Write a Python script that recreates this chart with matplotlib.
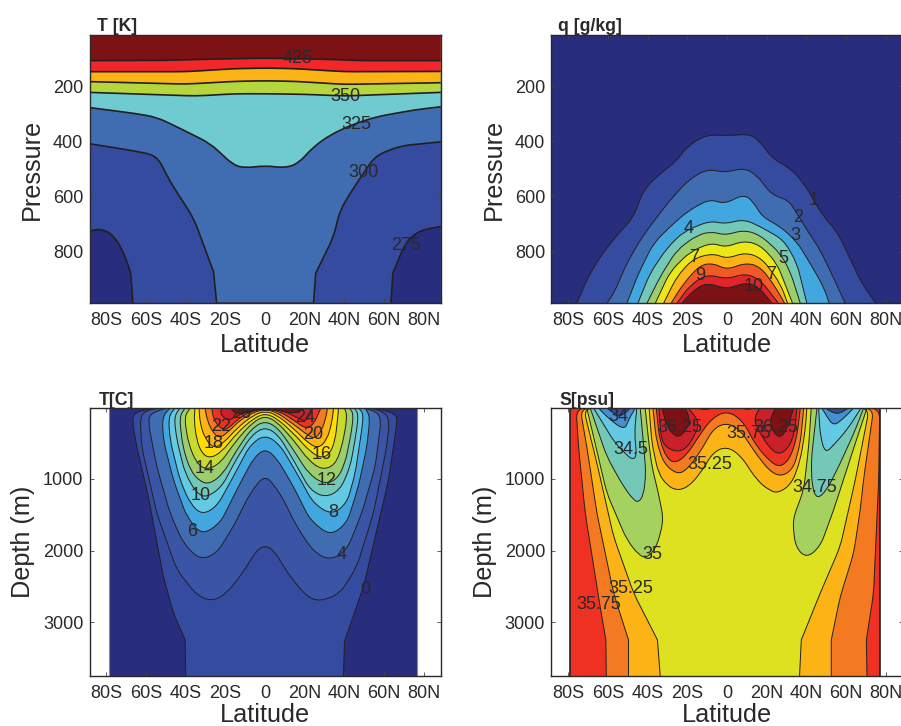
import matplotlib
matplotlib.use("Agg")
import matplotlib.pyplot as plt
from matplotlib.path import Path
from matplotlib.patches import PathPatch
import numpy as np

plt.rcParams["font.family"] = ["Liberation Sans", "DejaVu Sans"]

W, H = 901.0, 726.0
INK = "#2b2829"
lat_ticks = [-80, -60, -40, -20, 0, 20, 40, 60, 80]
lat_names = ["80S", "60S", "40S", "20S", "0", "20N", "40N", "60N", "80N"]

# colours
navy = "#282d7d"
blue1 = "#344b9f"
blue2 = "#3a55a5"
blue3 = "#406db2"
blue4 = "#42a6df"
cyan = "#64c9e2"
teal = "#73c8b8"
green = "#9ccf6b"
lime = "#c8da2e"
yellow = "#ffdd00"
amber = "#fbb316"
orange = "#f47a21"
red = "#ef3124"
crimson = "#c9202a"
dark = "#7c1214"

# T [K], isolines
tk425_lat = [-88.5, -50, -30, 0, 30, 50, 88.5]
tk425_p = [108, 107, 103, 99, 103, 108, 108]
tk400_lat = [-88.5, -40, -15, 0, 15, 40, 88.5]
tk400_p = [148, 148, 137, 135, 137, 148, 147]
tk375_lat = [-88.5, -40, -15, 0, 15, 40, 88.5]
tk375_p = [184, 193, 183, 181, 183, 194, 188]
tk350_lat = [-88.5, -35, -15, 0, 20, 40, 88.5]
tk350_p = [223, 236, 228, 228, 230, 236, 223]
tk325_lat = [-88.5, -66, -54.6, -43, -27.7, -16, -10, 0, 10, 16.8, 24.4, 32.8, 44.5, 56.3, 74.8, 88.5]
tk325_p = [278, 299, 313, 353, 408, 486, 497, 488, 497, 480, 420, 377, 338, 311, 287, 275]
tk300_lat = [-88.5, -66, -54.6, -47.9, -36, -26, -24.4, 24.4, 25.5, 34.5, 37.8, 44.5, 55.5, 68, 88.5]
tk300_p = [409, 435, 452, 546, 679, 872, 987, 987, 878, 746, 649, 570, 453, 417, 402]
tk275w_lat = [-88.5, -82.4, -76.5, -71.4, -67.7, -66.7]
tk275w_p = [725, 717, 740, 800, 878, 987]
tk275e_lat = [63.4, 64.4, 70.6, 77.3, 88.5]
tk275e_p = [987, 878, 770, 724, 709]

tk_text = ["425", "350", "325", "300", "275"]
tk_text_lat = [16.5, 40.3, 46.2, 49.6, 71]
tk_text_p = [102, 239, 341, 514, 776]

# q [g/kg], isolines
q1_lat = [-75.6, -70.6, -63.9, -53.8, -47.4, -42, -34.5, -26, -19.3, -10, 0, 11.8, 16.8, 22.7, 32, 38.7, 48.7, 55.5, 62, 68, 75]
q1_p = [987, 902, 818, 727, 679, 577, 522, 476, 414, 376, 380, 374, 402, 462, 498, 552, 673, 727, 824, 915, 987]
q2_lat = [-60.5, -57, -50.4, -43.7, -37, -28.6, -19.3, -10, -0.8, 8.4, 15, 22.7, 31, 35.3, 40.3, 47, 53.8, 58.8, 59.7]
q2_p = [987, 951, 842, 758, 691, 613, 540, 500, 514, 496, 522, 595, 613, 661, 721, 794, 896, 975, 987]
q3_lat = [-50.4, -44.5, -37, -28.6, -19.3, -8.4, -1.3, 8.4, 13.4, 17.6, 26.9, 35.3, 42.9, 48.7, 51.6]
q3_p = [987, 878, 770, 709, 651, 609, 628, 592, 619, 673, 709, 764, 854, 927, 987]
q4_lat = [-44.9, -38.7, -30.3, -21.8, -8.4, -0.8, 8.4, 16.8, 28.6, 35.3, 37.8, 40.3]
q4_p = [987, 878, 788, 727, 688, 700, 682, 709, 758, 842, 915, 987]
q5_lat = [-40.3, -33.6, -25.2, -15, -7.6, -0.8, 8.4, 16.8, 26.9, 31.9, 37]
q5_p = [987, 890, 794, 740, 727, 741, 721, 740, 806, 872, 987]
q6_lat = [-36.1, -28.6, -18.5, -7.6, -0.8, 8.4, 16.8, 25.2, 33.1]
q6_p = [987, 872, 800, 767, 785, 760, 776, 842, 987]
q7_lat = [-31.9, -25.2, -16.8, -6.7, 0, 9.2, 17.6, 26.9, 30.6]
q7_p = [987, 890, 824, 806, 826, 802, 824, 915, 987]
q8_lat = [-28.2, -21.8, -13.4, -6.7, 0, 9.2, 16.8, 24.4, 29.1]
q8_p = [987, 915, 848, 842, 866, 840, 854, 927, 987]
q9_lat = [-25.2, -18.5, -10, 0, 9.2, 16.8, 26]
q9_p = [987, 921, 881, 900, 878, 902, 987]
q10_lat = [-22.7, -16.8, -10, 0, 9.2, 16, 22.7]
q10_p = [987, 939, 912, 936, 911, 927, 987]

q_text = ["1", "2", "3", "4", "5", "7", "7", "9", "10"]
q_text_lat = [43.7, 36.1, 34.5, -19.5, 28.2, -16.5, 22.2, -13.4, 13.4]
q_text_p = [616, 676, 743, 715, 824, 822, 882, 888, 925]

# T[C], isolines
tc0_lat = [-40, -40.3, -46.2, -51.3, -58.8, -64.7, -66.9, -66, -61.3, -53, 53, 60, 66.4, 66.4, 62.2, 56.3, 49.6, 40, 39.5]
tc0_d = [3748, 3246, 2874, 2362, 1246, 549, 200, 84, 37, 10, 10, 37, 107, 224, 1014, 1711, 2502, 3269, 3748]
tc2_lat = [-53, -59.7, -63, -62.2, -54.6, -44.5, -34.5, -26.9, -19.3, -10.9, -4.2, 0, 4.2, 12.6, 21, 27.7, 37.8, 46.2, 54.6, 61.3, 62.7, 59.7, 53]
tc2_d = [10, 37, 130, 549, 1479, 2269, 2618, 2711, 2595, 2293, 1990, 1930, 1990, 2362, 2641, 2711, 2595, 2223, 1479, 549, 177, 60, 10]
tc4_lat = [-49.6, -58, -58.8, -54.6, -47.9, -41.2, -32.8, -24.4, -16, -7.6, 0, 7.6, 16, 24.4, 32.8, 41.2, 48.7, 55.5, 58.5, 56.3, 49.6]
tc4_d = [10, 84, 223, 828, 1479, 1897, 2130, 2037, 1665, 1200, 935, 1200, 1665, 2014, 2139, 1990, 1479, 828, 177, 60, 10]
tc6_lat = [-47.9, -51.8, -51.3, -46.2, -39.5, -31.9, -22.7, -14.3, -5.9, 0, 5.9, 14.3, 22.7, 32.8, 41.2, 47, 51.3, 52.9, 50.4]
tc6_d = [10, 130, 456, 1014, 1525, 1781, 1618, 1153, 712, 572, 712, 1107, 1572, 1791, 1618, 1107, 549, 130, 10]
tc8_lat = [-45.4, -48.7, -47.9, -42.9, -37.8, -31.9, -24.4, -16, -7.6, 0, 7.6, 16, 24.4, 33.6, 41.2, 45.4, 48.7, 49.6, 47]
tc8_d = [10, 130, 456, 1014, 1340, 1502, 1386, 967, 526, 377, 526, 921, 1340, 1502, 1340, 921, 316, 84, 10]
tc10_lat = [-42.9, -45.9, -44.5, -40.3, -34.5, -29.4, -21.8, -14.3, -6.7, 0, 6.7, 14.3, 22.7, 30.3, 37.8, 42.9, 46.2, 47, 44.9]
tc10_d = [10, 130, 456, 921, 1200, 1260, 1107, 712, 386, 270, 386, 735, 1153, 1260, 1153, 828, 316, 84, 10]
tc12_lat = [-40.3, -43.2, -41.5, -37.8, -32.8, -27.7, -21, -14.3, -6.7, 0, 6.7, 14.3, 21.8, 29.4, 36.1, 40.3, 43.7, 44.5, 42.5]
tc12_d = [10, 130, 549, 874, 1037, 1070, 921, 595, 293, 186, 293, 595, 921, 1070, 1014, 781, 316, 84, 10]
tc14_lat = [-37.8, -40.7, -38.7, -34.5, -29.4, -22.7, -14.3, -5.9, 0, 5.9, 14.3, 21.8, 28.6, 35.3, 38.7, 41.2, 40.7, 39.5]
tc14_d = [10, 130, 502, 781, 874, 781, 456, 200, 121, 200, 456, 735, 874, 805, 549, 177, 37, 10]
tc16_lat = [-35.3, -35.8, -34.5, -31.9, -27.7, -21.8, -14.3, -5.9, 0, 5.9, 14.3, 22.7, 28.6, 32.8, 35.3, 36.5, 37]
tc16_d = [10, 177, 456, 642, 712, 619, 363, 154, 84, 154, 363, 619, 712, 642, 456, 177, 10]
tc18_lat = [-33.3, -32.8, -30.3, -26, -21, -14.3, -5.9, 0, 5.9, 14.3, 21.8, 26.9, 31.1, 33.6, 34.5]
tc18_d = [10, 223, 433, 572, 502, 293, 107, 51, 107, 293, 502, 572, 456, 223, 10]
tc20_lat = [-30.3, -29, -26, -22.7, -17.6, -12.6, -5.9, 0, 5.9, 12.6, 20.2, 25.2, 28.6, 30.8, 31.4]
tc20_d = [10, 200, 363, 433, 316, 177, 70, 28, 70, 200, 363, 447, 316, 130, 10]
tc22_lat = [-26.9, -26, -22.7, -19.3, -14.3, -7.6, 0, 7.6, 14.3, 21, 24.7, 26.9, 28.1]
tc22_d = [10, 163, 293, 316, 177, 60, 19, 60, 177, 307, 223, 84, 10]
tc24_lat = [-21.8, -22.7, -19.3, -16, -9.2, 0, 9.2, 16, 20.2, 22.7, 24]
tc24_d = [10, 84, 186, 154, 47, 14, 47, 140, 200, 107, 10]
tc26_lat = [-17.6, -15.1, -10, -4.2, 0, 2.5, 9.2, 16, 18.5, 19.7]
tc26_d = [10, 84, 84, 28, 18, 14, 60, 84, 37, 10]

tc_text = ["26", "24", "22", "20", "18", "16", "14", "12", "10", "8", "6", "4", "0"]
tc_text_lat = [-11.8, 20.2, -22.4, 24.4, -26, 28.6, -30.3, 30.8, -32.3, 34.5, -36.8, 38.7, 50.4]
tc_text_d = [84, 140, 261, 372, 502, 661, 851, 1023, 1233, 1470, 1735, 2060, 2548]

# S[psu], isolines
s_or_lat = [-60.8, -61, -63.9, -71.4, -74.8, -76, 77, 76.5, 73.9, 70.3, 70.6]
s_or_d = [3748, 3246, 2781, 1479, 549, 10, 10, 1014, 2595, 3246, 3748]
s_am_lat = [-49.6, -49.6, -57.1, -65.5, -70.6, -74, 74, 68.9, 67.2, 63.9, 57.1, 52.6, 52.6]
s_am_d = [3748, 3246, 2595, 1479, 549, 10, 10, 1000, 1432, 2037, 2641, 3246, 3748]
s_ye_lat = [-33.6, -35, -47, -57.1, -65.5, -72.3, 71.8, 64.7, 61.3, 57.1, 47, 37.5, 36.6]
s_ye_d = [3748, 3246, 2595, 1804, 781, 10, 10, 1014, 1432, 1944, 2595, 3246, 3748]
s_gr1_lat = [-70.6, -60.5, -50.4, -44.5, -40.3, -35.3, -31.9, -34.5, -37.8, -39.5, -41.2]
s_gr1_d = [10, 1200, 1851, 2060, 2107, 1944, 1572, 1200, 828, 456, 10]
s_gr2_lat = [42.5, 41.2, 38.7, 33.1, 34.5, 40, 47, 53.8, 64.7, 70.6]
s_gr2_d = [10, 549, 1153, 1572, 1944, 2107, 1944, 1432, 502, 10]
s_te1_lat = [-68.9, -60.5, -52.1, -47, -44.5, -42, -40.8, -42.5, -43.7]
s_te1_d = [10, 688, 1107, 1293, 1325, 1223, 921, 363, 10]
s_te2_lat = [45.4, 42.5, 42.9, 45.4, 50.4, 57.1, 64.7, 68.9]
s_te2_d = [10, 735, 1107, 1284, 1153, 781, 316, 10]
s_cy1_lat = [-67.2, -56.3, -50.4, -47.9, -45.4, -46.6, -45.4]
s_cy1_d = [10, 502, 665, 726, 688, 363, 10]
s_cy2_lat = [46.2, 47.1, 49.6, 53.8, 60.5, 67.6]
s_cy2_d = [10, 409, 642, 526, 316, 10]
s_bl1_lat = [-64.7, -58.8, -51.6, -49.6, -46.2]
s_bl1_d = [10, 177, 316, 177, 10]
s_bl2_lat = [47.9, 50.4, 53.8, 58.8, 63.9]
s_bl2_d = [10, 130, 261, 154, 10]
s_na1_lat = [-60.5, -54.6, -51.3, -48.7]
s_na1_d = [10, 130, 84, 10]
s_na2_lat = [49.6, 55.5, 61.3]
s_na2_d = [10, 107, 10]
s_uam_lat = [-39.2, -37.8, -34.5, -30.3, -25.2, -19.3, -13.4, -6.7, 0, 6.7, 15.1, 21, 26, 32.8, 37, 39.5, 40.3]
s_uam_d = [10, 502, 921, 1084, 1163, 1107, 921, 619, 549, 665, 1014, 1153, 1200, 1060, 735, 316, 10]
s_uor_lat = [-37.3, -35.6, -31.9, -25.2, -20.2, -13.4, -6.7, 0, 6.7, 15.1, 21.8, 27.7, 33.6, 37, 38.7]
s_uor_d = [10, 456, 781, 935, 874, 619, 293, 214, 316, 665, 898, 967, 851, 502, 10]
s_ure_lat = [-35.6, -33.9, -30.3, -26, -20.2, -14.3, -7.6, 0, 7.6, 15.1, 21.8, 26.9, 31.9, 35.3, 37]
s_ure_d = [10, 456, 712, 781, 665, 409, 154, 47, 177, 549, 758, 837, 712, 409, 10]
s_cr1_lat = [-34.3, -32.8, -26.9, -21, -16, -13.8, -19.5]
s_cr1_d = [10, 502, 619, 595, 386, 200, 10]
s_cr2_lat = [16.5, 13.4, 16.8, 21, 26, 31, 34, 35.3]
s_cr2_d = [10, 177, 363, 549, 665, 572, 363, 10]
s_da1_lat = [-32.6, -30.3, -25.2, -21, -18.5, -21]
s_da1_d = [10, 270, 433, 340, 177, 10]
s_da2_lat = [24.4, 21, 26, 30.3, 33.6]
s_da2_d = [10, 223, 447, 316, 10]
s_lob1_lat = [-15, -11, -7.5]
s_lob1_d = [10, 38, 10]
s_lob2_lat = [7.6, 10.5, 13]
s_lob2_d = [10, 35, 10]

s_text = ["34", "34.5", "36.25", "35.75", "36.25", "35.25", "34.75", "35", "35.25", "35.75"]
s_text_lat = [-54.6, -48.2, -23.5, 10.9, 24.9, -8.7, 44.5, -37.5, -48.6, -64.7]
s_text_d = [121, 595, 279, 363, 284, 791, 1116, 2060, 2525, 2758]

# the model grid leaves hard corners at these levels
tk_sharp = (872, 878, 987)
ocean_sharp = (3246, 3269)


def rounded(ax, lat, val, sharp, radius=10):
    # corners of the isoline get rounded, radius in pixels
    pts = np.column_stack([lat, val]).astype(float)
    px = ax.transData.transform(pts)
    seg = np.hypot(*(px[1:] - px[:-1]).T)
    verts = [pts[0]]
    codes = [Path.MOVETO]
    for i in range(1, len(pts) - 1):
        if val[i] in sharp:
            verts.append(pts[i])
            codes.append(Path.LINETO)
            continue
        t0 = min(0.5, radius / max(seg[i - 1], 1e-6))
        t1 = min(0.5, radius / max(seg[i], 1e-6))
        verts += [pts[i] + t0 * (pts[i - 1] - pts[i]), pts[i], pts[i] + t1 * (pts[i + 1] - pts[i])]
        codes += [Path.LINETO, Path.CURVE3, Path.CURVE3]
    verts.append(pts[-1])
    codes.append(Path.LINETO)
    return verts, codes


def area(ax, lat, val, color, close_at, lw, sharp=()):
    verts, codes = rounded(ax, lat, val, sharp)
    fill_v = verts + [(lat[-1], close_at), (lat[0], close_at), (lat[0], close_at)]
    fill_c = codes + [Path.LINETO, Path.LINETO, Path.CLOSEPOLY]
    ax.add_patch(PathPatch(Path(fill_v, fill_c), facecolor=color, edgecolor="none", lw=0, zorder=2))
    ax.add_patch(PathPatch(Path(verts, codes), facecolor="none", edgecolor="#231f20", lw=lw, zorder=3))


def make_axes(left, top, right, bottom, ylim, yticks, title, ylabel, ylabel_x, title_x, title_y, face, lat_y):
    ax = fig.add_axes([left / W, 1 - bottom / H, (right - left) / W, (bottom - top) / H])
    ax.set_xlim(-88.5, 88.5)
    ax.set_ylim(*ylim)
    ax.set_xticks(lat_ticks)
    ax.set_xticklabels(lat_names)
    ax.set_yticks(yticks)
    ax.tick_params(direction="in", top=True, right=True, length=2.6, width=0.6,
                   labelsize=13, colors="#444444", labelcolor=INK)
    ax.tick_params(axis="x", pad=6.5)
    ax.tick_params(axis="y", pad=4.5)
    ax.set_facecolor(face)
    for s in ax.spines.values():
        s.set_linewidth(1.0)
        s.set_color(INK)
        s.set_zorder(6)
    fig.text((left + right) / 2 / W, 1 - lat_y / H, "Latitude", fontsize=18.2, color=INK,
             ha="center", va="center")
    fig.text(ylabel_x / W, 1 - (top + bottom) / 2 / H, ylabel, fontsize=18.2, color=INK,
             rotation=90, ha="center", va="center")
    fig.text(title_x / W, 1 - title_y / H, title, fontsize=12.7, fontweight="bold", color=INK,
             ha="left", va="baseline")
    return ax


def labels(ax, names, xs, ys):
    for n, x, y in zip(names, xs, ys):
        ax.text(x, y, n, fontsize=13, color="#2b2829", ha="center", va="center", zorder=5, clip_on=True)


fig = plt.figure(figsize=(W / 100, H / 100), dpi=100)

# T [K]
ax1 = make_axes(89.5, 34.7, 440.7, 303.3, (987, 14), [200, 400, 600, 800], "T [K]", "Pressure", 32, 97, 31, blue1, 345)
area(ax1, tk275w_lat, tk275w_p, navy, 987, 1.2, tk_sharp)
area(ax1, tk275e_lat, tk275e_p, navy, 987, 1.2, tk_sharp)
area(ax1, tk300_lat, tk300_p, blue3, 0, 1.2, tk_sharp)
area(ax1, tk325_lat, tk325_p, "#70cbd1", 0, 1.2)
area(ax1, tk350_lat, tk350_p, "#b5d63d", 0, 1.2)
area(ax1, tk375_lat, tk375_p, amber, 0, 1.2)
area(ax1, tk400_lat, tk400_p, "#f1272a", 0, 1.2)
area(ax1, tk425_lat, tk425_p, dark, 0, 1.2)
labels(ax1, tk_text, tk_text_lat, tk_text_p)

# q [g/kg]
ax2 = make_axes(551.3, 34.7, 902.5, 303.3, (987, 14), [200, 400, 600, 800], "q [g/kg]", "Pressure", 494, 558, 31, navy, 345)
q_lines = [(q1_lat, q1_p, blue1), (q2_lat, q2_p, blue3), (q3_lat, q3_p, blue4), (q4_lat, q4_p, teal),
           (q5_lat, q5_p, green), (q6_lat, q6_p, "#ece716"), (q7_lat, q7_p, amber),
           (q8_lat, q8_p, "#f15a24"), (q9_lat, q9_p, "#e3242b"), (q10_lat, q10_p, dark)]
for la, pr, co in q_lines:
    area(ax2, la, pr, co, 987, 0.7)
labels(ax2, q_text, q_text_lat, q_text_p)

# T[C]
ax3 = make_axes(89.5, 408, 440.7, 676, (3750, 9), [1000, 2000, 3000], "T[C]", "Depth (m)", 23, 98.7, 405, "white", 715)
ax3.axvspan(-78.7, 76.8, color=navy, lw=0, zorder=1)
ax3.axvline(-78.7, color="#8a8a8a", lw=0.8, zorder=3)
ax3.axvline(76.8, color="#8a8a8a", lw=0.8, zorder=3)
area(ax3, tc0_lat, tc0_d, blue1, 3750, 0.7, ocean_sharp)
tc_lines = [(tc2_lat, tc2_d, blue2), (tc4_lat, tc4_d, blue3), (tc6_lat, tc6_d, blue4), (tc8_lat, tc8_d, cyan),
            (tc10_lat, tc10_d, teal), (tc12_lat, tc12_d, green), (tc14_lat, tc14_d, lime),
            (tc16_lat, tc16_d, yellow), (tc18_lat, tc18_d, amber), (tc20_lat, tc20_d, orange),
            (tc22_lat, tc22_d, red), (tc24_lat, tc24_d, crimson), (tc26_lat, tc26_d, dark)]
for la, de, co in tc_lines:
    area(ax3, la, de, co, 0, 0.7)
labels(ax3, tc_text, tc_text_lat, tc_text_d)

# S[psu]
ax4 = make_axes(551.3, 408, 902.5, 676, (3750, 9), [1000, 2000, 3000], "S[psu]", "Depth (m)", 485, 559, 405, "white", 715)
ax4.axvspan(-78.9, 77, color=red, lw=0, zorder=1)
ax4.axvline(-78.9, color="#231f20", lw=1.2, zorder=4)
ax4.axvline(77, color="#231f20", lw=1.2, zorder=4)
area(ax4, s_or_lat, s_or_d, orange, 3750, 0.7, ocean_sharp)
area(ax4, s_am_lat, s_am_d, amber, 3750, 0.7, ocean_sharp)
area(ax4, s_ye_lat, s_ye_d, "#dde11f", 3750, 0.7, ocean_sharp)
s_lines = [(s_gr1_lat, s_gr1_d, "#a5d15f"), (s_gr2_lat, s_gr2_d, "#a5d15f"), (s_te1_lat, s_te1_d, teal),
           (s_te2_lat, s_te2_d, teal), (s_cy1_lat, s_cy1_d, cyan), (s_cy2_lat, s_cy2_d, cyan),
           (s_bl1_lat, s_bl1_d, "#4590d2"), (s_bl2_lat, s_bl2_d, "#4590d2"),
           (s_na1_lat, s_na1_d, blue1), (s_na2_lat, s_na2_d, blue1),
           (s_uam_lat, s_uam_d, amber), (s_uor_lat, s_uor_d, orange), (s_ure_lat, s_ure_d, red),
           (s_cr1_lat, s_cr1_d, crimson), (s_cr2_lat, s_cr2_d, crimson),
           (s_da1_lat, s_da1_d, dark), (s_da2_lat, s_da2_d, dark),
           (s_lob1_lat, s_lob1_d, orange), (s_lob2_lat, s_lob2_d, orange)]
for la, de, co in s_lines:
    area(ax4, la, de, co, 0, 0.7)
labels(ax4, s_text, s_text_lat, s_text_d)

fig.savefig("out.png", dpi=100)
